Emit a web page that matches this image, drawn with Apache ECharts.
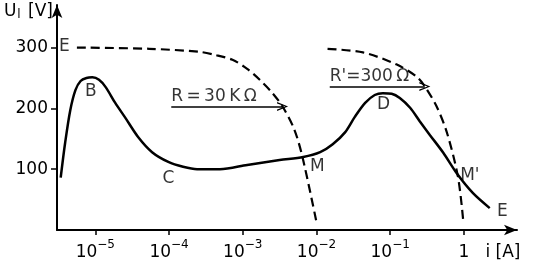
<!DOCTYPE html>
<html>
<head>
<meta charset="utf-8">
<script src="https://cdn.jsdelivr.net/npm/echarts@6/dist/echarts.min.js"></script>
<style>html,body{margin:0;padding:0;background:#fff}#c{width:557px;height:269px}</style>
</head>
<body>
<div id="c"></div>
<script>
// x values are log10 of the current i [A]; y values are U_l [V]
const solidLogI   = [-5.47,-5.41,-5.34,-5.27,-5.20,-5.12,-5.04,-4.95,-4.86,-4.73,-4.59,-4.42,-4.23,-4.01,-3.81,-3.62,-3.31,-2.94,-2.50,-2.18,-1.95,-1.78,-1.61,-1.48,-1.34,-1.21,-1.10,-0.98,-0.87,-0.73,-0.60,-0.46,-0.28,-0.09,0.12,0.35];
const solidU      = [86,143,197,230,245,250,251,247,235,209,184,153,128,112,104,100,100,107,115,120,128,141,161,186,209,222,225,224,217,201,179,156,127,92,61,36];
const load1LogI   = [-5.25,-4.27,-3.59,-3.38,-3.14,-2.94,-2.77,-2.61,-2.46,-2.30,-2.19,-2.00];
const load1U      = [300,298,293,288,280,265,247,227,203,165,120,13];
const load2LogI   = [-1.85,-1.37,-0.91,-0.64,-0.54,-0.37,-0.23,-0.08,-0.01];
const load2U      = [298,292,272,252,238,203,160,87,16];
const xTickExp    = [-5,-4,-3,-2,-1,0];
const yTicks      = [100,200,300];
const pointNames  = ['E','B','C','M','D',"M'",'E'];
const pointLogI   = [-5.42,-5.06,-4.01,-1.99,-1.09,0.08,0.52];
const pointU      = [301,227,84,105,206,89,30];
const arrowLabels = ['R\u2009=\u200930\u2009K\u2009Ω',"R'=300\u2009Ω"];
const arrowFromLogI = [-3.97,-1.82];
const arrowToLogI   = [-2.46,-0.53];
const arrowU        = [203,236];
const arrowTextU    = [219,253];
const xNameLogI = 0.53;

const FONT = 'DejaVu Sans';
const zip = (a,b)=>a.map((v,i)=>[v,b[i]]);
const chart = echarts.init(document.getElementById('c'));
const openArrow = 'path://M5,0 L10,10 L8.4,10 L5,2.6 L1.6,10 L0,10 Z';

chart.setOption({
  backgroundColor:'#fff',
  animation:false,
  grid:{left:57,right:40,top:5,bottom:39},
  xAxis:{
    type:'value', min:-5.52, max:0.72,
    splitLine:{show:false},
    axisLine:{onZero:false,lineStyle:{color:'#000',width:2},symbol:['none','arrow'],symbolSize:[8,13]},
    axisTick:{customValues:xTickExp,length:5,lineStyle:{color:'#000',width:1.5}},
    axisLabel:{
      customValues:xTickExp.concat([xNameLogI]),
      margin:6,
      formatter:function(v){
        if (Math.abs(v-xNameLogI)<1e-6) return '{b|i [A]}';
        if (v===0) return '{b|1}';
        return '{b|10}{s|' + String(v).replace('-','−') + '}';
      },
      rich:{
        b:{fontFamily:FONT,fontSize:17,color:'#000',padding:[8,0,0,0]},
        s:{fontFamily:FONT,fontSize:12,color:'#000',padding:[0,0,8,0]}
      }
    }
  },
  yAxis:{
    type:'value', min:0, max:370,
    splitLine:{show:false},
    name:'{u|U}{s|l}{b| [V]}',
    nameLocation:'end', nameGap:-16,
    nameTextStyle:{align:'right',padding:[0,4,0,0],
      rich:{
        u:{fontFamily:FONT,fontSize:17,color:'#000'},
        s:{fontFamily:FONT,fontSize:12,color:'#000',padding:[6,2,0,1]},
        b:{fontFamily:FONT,fontSize:17,color:'#000'}
      }},
    axisLine:{onZero:false,lineStyle:{color:'#000',width:2},symbol:['none','arrow'],symbolSize:[8,13]},
    axisTick:{customValues:yTicks,length:6,lineStyle:{color:'#000',width:1.5}},
    axisLabel:{customValues:yTicks,margin:9,fontFamily:FONT,fontSize:17,color:'#000'}
  },
  series:[
    {type:'line',data:zip(solidLogI,solidU),smooth:0.3,showSymbol:false,
      lineStyle:{color:'#000',width:2.5}},
    {type:'line',data:zip(load1LogI,load1U),smooth:0.3,showSymbol:false,
      lineStyle:{color:'#000',width:2.2,type:[9,5]}},
    {type:'line',data:zip(load2LogI,load2U),smooth:0.3,showSymbol:false,
      lineStyle:{color:'#000',width:2.2,type:[9,5]},
      markLine:{
        silent:true,animation:false,
        symbol:['none',openArrow],symbolSize:[9,11],
        lineStyle:{color:'#000',width:1.6,type:'solid'},
        label:{show:false},
        data:arrowLabels.map((t,i)=>[{coord:[arrowFromLogI[i],arrowU[i]]},{coord:[arrowToLogI[i],arrowU[i]]}])
      }},
    {type:'scatter',symbolSize:0,silent:true,
      data:pointNames.map((n,i)=>({name:n,value:[pointLogI[i],pointU[i]]})),
      label:{show:true,position:'inside',formatter:'{b}',fontFamily:FONT,fontSize:17,color:'#000'}},
    {type:'scatter',symbolSize:0,silent:true,
      data:arrowLabels.map((n,i)=>({name:n,value:[arrowFromLogI[i],arrowTextU[i]]})),
      label:{show:true,position:'right',distance:0,formatter:'{b}',fontFamily:FONT,fontSize:17,color:'#000'}}
  ]
});
</script>
</body>
</html>
